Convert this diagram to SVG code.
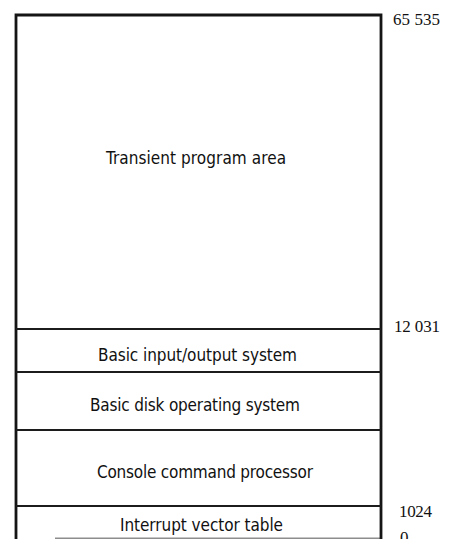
<svg xmlns="http://www.w3.org/2000/svg" width="452" height="539" viewBox="0 0 452 539">
  <style>
    .frame { fill: none; stroke: #151515; stroke-width: 2.8; }
    .divider { stroke: #1c1c1c; stroke-width: 2.2; }
    .label { font-family: "DejaVu Sans Condensed", "DejaVu Sans", sans-serif; font-stretch: condensed; font-size: 17px; fill: #111; }
    .addr { font-family: "Liberation Serif", "DejaVu Serif", serif; font-size: 17px; fill: #111; }
  </style>
  <rect width="452" height="539" fill="#fff"/>

  <!-- Memory map outline -->
  <path class="frame" d="M16,540 V15 H381 V540"/>

  <!-- Region boundaries -->
  <g id="connectors">
    <line class="divider" x1="16" y1="329" x2="381" y2="329"/>
    <line class="divider" x1="16" y1="372" x2="381" y2="372"/>
    <line class="divider" x1="16" y1="430" x2="381" y2="430"/>
    <line class="divider" x1="16" y1="506" x2="381" y2="506"/>
    <line class="divider" x1="55" y1="538.5" x2="381" y2="538.5" stroke-opacity="0.5"/>
  </g>

  <g id="tpa">
    <text class="label" x="106" y="164" textLength="180" lengthAdjust="spacing">Transient program area</text>
  </g>
  <g id="bios">
    <text class="label" x="98" y="361" textLength="199" lengthAdjust="spacing">Basic input/output system</text>
  </g>
  <g id="bdos">
    <text class="label" x="90" y="411" textLength="210" lengthAdjust="spacing">Basic disk operating system</text>
  </g>
  <g id="ccp">
    <text class="label" x="97" y="478" textLength="216" lengthAdjust="spacing">Console command processor</text>
  </g>
  <g id="ivt">
    <text class="label" x="120" y="531" textLength="163" lengthAdjust="spacing">Interrupt vector table</text>
  </g>

  <!-- Addresses -->
  <g id="addresses">
    <text class="addr" x="393" y="25" textLength="47" lengthAdjust="spacing">65 535</text>
    <text class="addr" x="394" y="332" textLength="46" lengthAdjust="spacing">12 031</text>
    <text class="addr" x="399" y="517" textLength="33" lengthAdjust="spacing">1024</text>
    <text class="addr" x="400" y="543">0</text>
  </g>
</svg>
